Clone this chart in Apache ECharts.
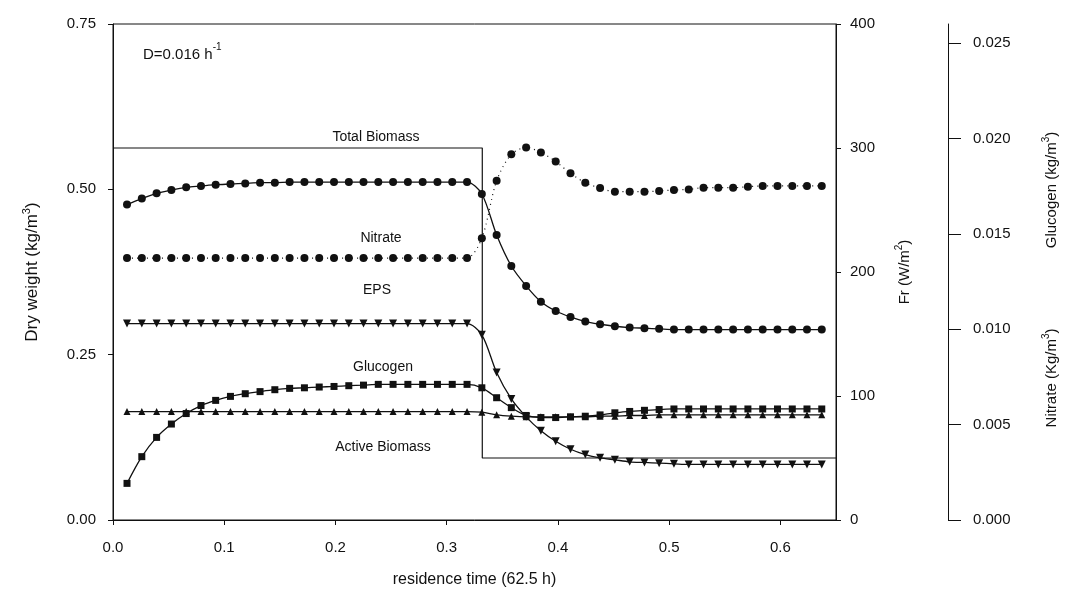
<!DOCTYPE html>
<html>
<head>
<meta charset="utf-8">
<script src="https://cdn.jsdelivr.net/npm/echarts@6/dist/echarts.min.js"></script>
<style>html,body{margin:0;padding:0;background:#fff}#c{width:1065px;height:600px}</style>
</head>
<body>
<div id="c"></div>
<script>
// residence time sample points (fraction of 62.5 h)
const xs = [0.0126,0.0259,0.0392,0.0525,0.0658,0.0791,0.0923,0.1056,0.1189,0.1322,0.1455,0.1588,0.1721,0.1854,0.1987,0.2120,0.2252,0.2385,0.2518,0.2651,0.2784,0.2917,0.3050,0.3183,
  0.3316,0.3449,0.3581,0.3714,0.3847,0.3980,0.4113,0.4246,0.4379,0.4512,0.4645,0.4778,0.4910,0.5043,0.5176,0.5309,0.5442,0.5575,0.5708,0.5841,0.5974,0.6107,0.6239,0.6372];
// Dry weight (kg/m3)
const totalBiomass = [0.477,0.486,0.494,0.499,0.503,0.505,0.507,0.508,0.509,0.510,0.510,0.511,0.511,0.511,0.511,0.511,0.511,0.511,0.511,0.511,0.511,0.511,0.511,0.511,
  0.493,0.431,0.384,0.354,0.330,0.316,0.307,0.300,0.296,0.293,0.291,0.290,0.289,0.288,0.288,0.288,0.288,0.288,0.288,0.288,0.288,0.288,0.288,0.288];
const eps = [0.297,0.297,0.297,0.297,0.297,0.297,0.297,0.297,0.297,0.297,0.297,0.297,0.297,0.297,0.297,0.297,0.297,0.297,0.297,0.297,0.297,0.297,0.297,0.297,
  0.280,0.223,0.183,0.156,0.135,0.119,0.107,0.099,0.094,0.091,0.088,0.087,0.086,0.085,0.084,0.084,0.084,0.084,0.084,0.084,0.084,0.084,0.084,0.084];
const activeBiomass = [0.164,0.164,0.164,0.164,0.164,0.164,0.164,0.164,0.164,0.164,0.164,0.164,0.164,0.164,0.164,0.164,0.164,0.164,0.164,0.164,0.164,0.164,0.164,0.164,
  0.163,0.159,0.157,0.156,0.156,0.156,0.156,0.156,0.157,0.157,0.158,0.158,0.159,0.159,0.159,0.159,0.159,0.159,0.159,0.159,0.159,0.159,0.159,0.159];
// Glucogen / Nitrate (kg/m3), third axis
const glucogen = [0.00192,0.00332,0.00433,0.00503,0.00558,0.00600,0.00627,0.00648,0.00662,0.00673,0.00683,0.00690,0.00693,0.00697,0.00700,0.00704,0.00707,0.00711,0.00711,0.00711,0.00711,0.00711,0.00711,0.00711,
  0.00693,0.00641,0.00589,0.00548,0.00537,0.00537,0.00541,0.00544,0.00551,0.00562,0.00569,0.00575,0.00579,0.00582,0.00582,0.00582,0.00582,0.00582,0.00582,0.00582,0.00582,0.00582,0.00582,0.00582];
const nitrate = [0.01373,0.01373,0.01373,0.01373,0.01373,0.01373,0.01373,0.01373,0.01373,0.01373,0.01373,0.01373,0.01373,0.01373,0.01373,0.01373,0.01373,0.01373,0.01373,0.01373,0.01373,0.01373,0.01373,0.01373,
  0.01477,0.01778,0.01917,0.01952,0.01927,0.01879,0.01817,0.01768,0.01740,0.01721,0.01721,0.01721,0.01725,0.01730,0.01733,0.01742,0.01742,0.01742,0.01747,0.01751,0.01751,0.01751,0.01751,0.01751];
// Fr (W/m2) light step
const frX = [0, 0.332, 0.332, 0.65];
const frY = [300, 300, 50, 50];
// tick values
const xTicks = [0, 0.1, 0.2, 0.3, 0.4, 0.5, 0.6];
const thirdTicks = [0, 0.005, 0.010, 0.015, 0.020, 0.025];

const FONT = 'Liberation Sans, Arial, Helvetica, sans-serif';
const INK = '#111';
const pair = (a, b) => a.map((v, i) => [v, b[i]]);

const chart = echarts.init(document.getElementById('c'), null, {renderer: 'canvas'});

function lineSeries(name, data, yIdx, symbol, size, opts) {
  return Object.assign({
    name, type: 'line', yAxisIndex: yIdx, data,
    symbol, symbolSize: size, smooth: 0.3,
    lineStyle: {color: INK, width: 1.3},
    itemStyle: {color: INK, borderWidth: 0},
    animation: false, z: 3
  }, opts || {});
}

const option = {
  animation: false,
  backgroundColor: '#fff',
  grid: {left: 113, right: 229, top: 24, bottom: 80, show: true, borderColor: INK, borderWidth: 1, backgroundColor: 'transparent'},
  xAxis: {
    type: 'value', min: 0, max: 0.65, interval: 0.1,
    axisLine: {lineStyle: {color: INK, width: 1}},
    axisTick: {show: true, length: 5, inside: false, lineStyle: {color: INK}, customValues: xTicks},
    axisLabel: {color: INK, fontFamily: FONT, fontSize: 15, margin: 20, customValues: xTicks, formatter: v => v.toFixed(1)},
    splitLine: {show: false},
    name: 'residence time (62.5 h)', nameLocation: 'middle', nameGap: 52,
    nameTextStyle: {color: INK, fontFamily: FONT, fontSize: 16}
  },
  yAxis: [
    {
      type: 'value', position: 'left', min: 0, max: 0.75, interval: 0.25,
      axisLine: {show: true, lineStyle: {color: INK}},
      axisTick: {show: true, length: 5, lineStyle: {color: INK}},
      axisLabel: {color: INK, fontFamily: FONT, fontSize: 15, margin: 17, formatter: v => v.toFixed(2)},
      splitLine: {show: false},
      name: '{a|Dry weight (kg/m}{s|3}{a|)}', nameLocation: 'middle', nameGap: 72,
      nameTextStyle: {color: INK, fontFamily: FONT, rich: {
        a: {fontSize: 17, fontFamily: FONT, color: INK, lineHeight: 20, verticalAlign: 'bottom'},
        s: {fontSize: 11, fontFamily: FONT, color: INK, lineHeight: 20, verticalAlign: 'top'}
      }}
    },
    {
      type: 'value', position: 'right', min: 0, max: 400, interval: 100,
      axisLine: {show: true, lineStyle: {color: INK}},
      axisTick: {show: true, length: 5, lineStyle: {color: INK}},
      axisLabel: {color: INK, fontFamily: FONT, fontSize: 15, margin: 14},
      splitLine: {show: false},
      name: '{a|Fr (W/m}{s|2}{a|)}', nameLocation: 'middle', nameGap: 58,
      nameTextStyle: {color: INK, fontFamily: FONT, rich: {
        a: {fontSize: 15, fontFamily: FONT, color: INK, lineHeight: 18, verticalAlign: 'bottom'},
        s: {fontSize: 10, fontFamily: FONT, color: INK, lineHeight: 18, verticalAlign: 'top'}
      }}
    },
    {
      type: 'value', position: 'right', offset: 112, min: 0, max: 0.026,
      axisLine: {show: true, lineStyle: {color: INK}},
      axisTick: {show: true, length: 13, lineStyle: {color: INK}, customValues: thirdTicks},
      axisLabel: {color: INK, fontFamily: FONT, fontSize: 15, margin: 25, customValues: thirdTicks, formatter: v => v.toFixed(3)},
      splitLine: {show: false}
    }
  ],
  graphic: [
    {type: 'text', left: 143, top: 42, style: {
      text: '{a|D=0.016 h}{s|-1}', fill: INK,
      rich: {a: {fontSize: 15, fontFamily: FONT, fill: INK, lineHeight: 20, verticalAlign: 'bottom'},
             s: {fontSize: 10, fontFamily: FONT, fill: INK, lineHeight: 20, verticalAlign: 'top'}}
    }},
    {type: 'text', x: 376, y: 137, style: {text: 'Total Biomass', font: '14px ' + FONT, fill: INK, align: 'center', verticalAlign: 'middle'}},
    {type: 'text', x: 381, y: 238, style: {text: 'Nitrate', font: '14px ' + FONT, fill: INK, align: 'center', verticalAlign: 'middle'}},
    {type: 'text', x: 377, y: 290, style: {text: 'EPS', font: '14px ' + FONT, fill: INK, align: 'center', verticalAlign: 'middle'}},
    {type: 'text', x: 383, y: 367, style: {text: 'Glucogen', font: '14px ' + FONT, fill: INK, align: 'center', verticalAlign: 'middle'}},
    {type: 'text', x: 383, y: 447, style: {text: 'Active Biomass', font: '14px ' + FONT, fill: INK, align: 'center', verticalAlign: 'middle'}},
    {type: 'text', x: 1050, y: 190, rotation: Math.PI / 2, style: {
      text: '{a|Glucogen (kg/m}{s|3}{a|)}', align: 'center', verticalAlign: 'middle',
      rich: {a: {fontSize: 15, fontFamily: FONT, fill: INK, lineHeight: 18, verticalAlign: 'bottom'},
             s: {fontSize: 10, fontFamily: FONT, fill: INK, lineHeight: 18, verticalAlign: 'top'}}
    }},
    {type: 'text', x: 1050, y: 378, rotation: Math.PI / 2, style: {
      text: '{a|Nitrate (Kg/m}{s|3}{a|)}', align: 'center', verticalAlign: 'middle',
      rich: {a: {fontSize: 15, fontFamily: FONT, fill: INK, lineHeight: 18, verticalAlign: 'bottom'},
             s: {fontSize: 10, fontFamily: FONT, fill: INK, lineHeight: 18, verticalAlign: 'top'}}
    }}
  ],
  series: [
    {name: 'Fr', type: 'line', yAxisIndex: 1, data: pair(frX, frY), symbol: 'none', smooth: false,
      lineStyle: {color: INK, width: 1.2}, z: 2},
    lineSeries('Total Biomass', pair(xs, totalBiomass), 0, 'circle', 8),
    lineSeries('EPS', pair(xs, eps), 0, 'triangle', 8, {symbolRotate: 180}),
    lineSeries('Active Biomass', pair(xs, activeBiomass), 0, 'triangle', 7),
    lineSeries('Glucogen', pair(xs, glucogen), 2, 'rect', 7),
    lineSeries('Nitrate', pair(xs, nitrate), 2, 'circle', 8, {lineStyle: {color: INK, width: 1.2, type: [1, 4]}})
  ]
};
chart.setOption(option);
</script>
</body>
</html>
